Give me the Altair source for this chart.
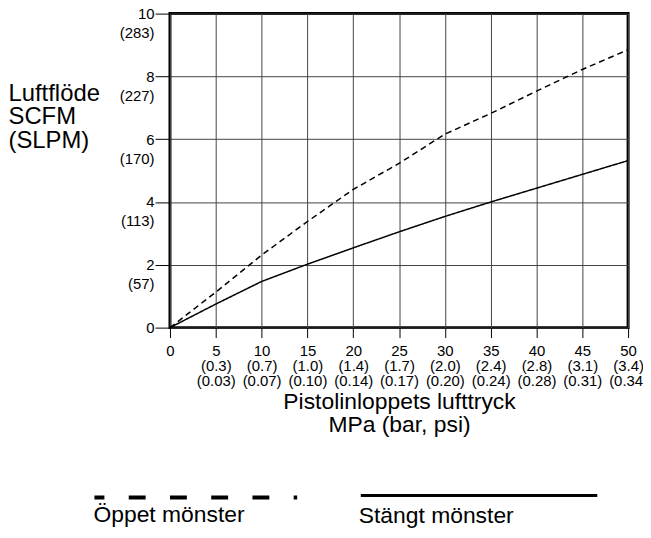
import json
import altair as alt
import pandas as pd

# ---- data ----
psi = [0, 5, 10, 15, 20, 25, 30, 35, 40, 45, 50]
bar_labels = ["", "(0.3)", "(0.7)", "(1.0)", "(1.4)", "(1.7)", "(2.0)", "(2.4)", "(2.8)", "(3.1)", "(3.4)"]
mpa_labels = ["", "(0.03)", "(0.07)", "(0.10)", "(0.14)", "(0.17)", "(0.20)", "(0.24)", "(0.28)", "(0.31)", "(0.34)"]
scfm_ticks = [0, 2, 4, 6, 8, 10]
slpm_labels = ["", "(57)", "(113)", "(170)", "(227)", "(283)"]
open_flow = [0, 1.13, 2.31, 3.38, 4.40, 5.23, 6.16, 6.82, 7.53, 8.22, 8.85]
closed_flow = [0, 0.75, 1.47, 2.02, 2.54, 3.05, 3.54, 4.00, 4.44, 4.88, 5.32]
series_names = ["Öppet mönster", "Stängt mönster"]

FONT = "Liberation Sans"

rows = []
for name, vals in zip(series_names, [open_flow, closed_flow]):
    for p, v in zip(psi, vals):
        rows.append({"psi": p, "flow": v, "series": name})
df = pd.DataFrame(rows)

x_label_expr = "[datum.label, {b}[round(datum.value/5)], {m}[round(datum.value/5)]]".format(
    b=json.dumps(bar_labels), m=json.dumps(mpa_labels))
y_label_expr = "[datum.label, {s}[round(datum.value/2)]]".format(s=json.dumps(slpm_labels))

x_scale = alt.Scale(domain=[0, 50], nice=False, zero=False)
y_scale = alt.Scale(domain=[0, 10], nice=False, zero=False)

x_axis = alt.Axis(
    values=psi, labelExpr=x_label_expr, labelFont=FONT, labelFontSize=15,
    labelColor="black", labelLineHeight=15, labelBaseline="top", labelPadding=6,
    labelFlush=False, labelOverlap=False, labelBound=False,
    tickSize=10, tickColor="black", tickWidth=1, domain=False,
    grid=True, gridColor="#444", gridWidth=1,
    title=["Pistolinloppets lufttryck", "MPa (bar, psi)"],
    titleFont=FONT, titleFontSize=23, titleFontWeight="normal", titleColor="black",
    titleLineHeight=24, titleBaseline="top", titleY=63, titleX=230.5, titleAlign="center",
)
y_axis = alt.Axis(
    values=scfm_ticks, labelExpr=y_label_expr, labelFont=FONT, labelFontSize=15,
    labelColor="black", labelLineHeight=19, labelBaseline="top", labelOffset=-7,
    labelPadding=1, labelFlush=False, labelOverlap=False, labelBound=False,
    tickSize=15, tickColor="black", tickWidth=1, domain=False,
    grid=True, gridColor="#444", gridWidth=1,
    title=["Luftflöde", "SCFM", "(SLPM)"],
    titleFont=FONT, titleFontSize=24, titleFontWeight="normal", titleColor="black",
    titleLineHeight=24, titleAngle=0, titleAlign="left", titleBaseline="top",
    titleX=-163, titleY=68,
)

lines = alt.Chart(df).mark_line(color="black", strokeWidth=1.5).encode(
    x=alt.X("psi:Q", scale=x_scale, axis=x_axis),
    y=alt.Y("flow:Q", scale=y_scale, axis=y_axis),
    strokeDash=alt.StrokeDash(
        "series:N",
        scale=alt.Scale(domain=series_names, range=[[6, 4], [1, 0]]),
        legend=None,
    ),
    detail="series:N",
)

# ---- hand-drawn legend below the chart (one row per legend item) ----
open_df = pd.DataFrame({"series": [series_names[0]]})
closed_df = pd.DataFrame({"series": [series_names[1]]})

leg_open_line = alt.Chart(open_df).mark_rule(
    color="black", strokeWidth=4, strokeDash=[17, 24.5], strokeDashOffset=7
).encode(x=alt.value(-76), x2=alt.value(128), y=alt.value(487))
leg_closed_line = alt.Chart(closed_df).mark_rule(color="black", strokeWidth=3).encode(
    x=alt.value(192), x2=alt.value(430), y=alt.value(485)
)
leg_open_text = alt.Chart(open_df).mark_text(
    font=FONT, fontSize=23, align="left", baseline="middle", color="black"
).encode(text="series:N", x=alt.value(-77), y=alt.value(505))
leg_closed_text = alt.Chart(closed_df).mark_text(
    font=FONT, fontSize=23, align="left", baseline="middle", color="black"
).encode(text="series:N", x=alt.value(190), y=alt.value(506))

chart = alt.layer(
    lines, leg_open_line, leg_closed_line, leg_open_text, leg_closed_text
).properties(
    width=461, height=316,
    autosize=alt.AutoSizeParams(type="none"),
    padding={"left": 163, "top": 4, "right": 15, "bottom": 200},
).configure(
    background="white",
    view=alt.ViewConfig(stroke="black", strokeWidth=3),
)

chart.save("out.html", embed_options={"renderer": "svg", "actions": False})
